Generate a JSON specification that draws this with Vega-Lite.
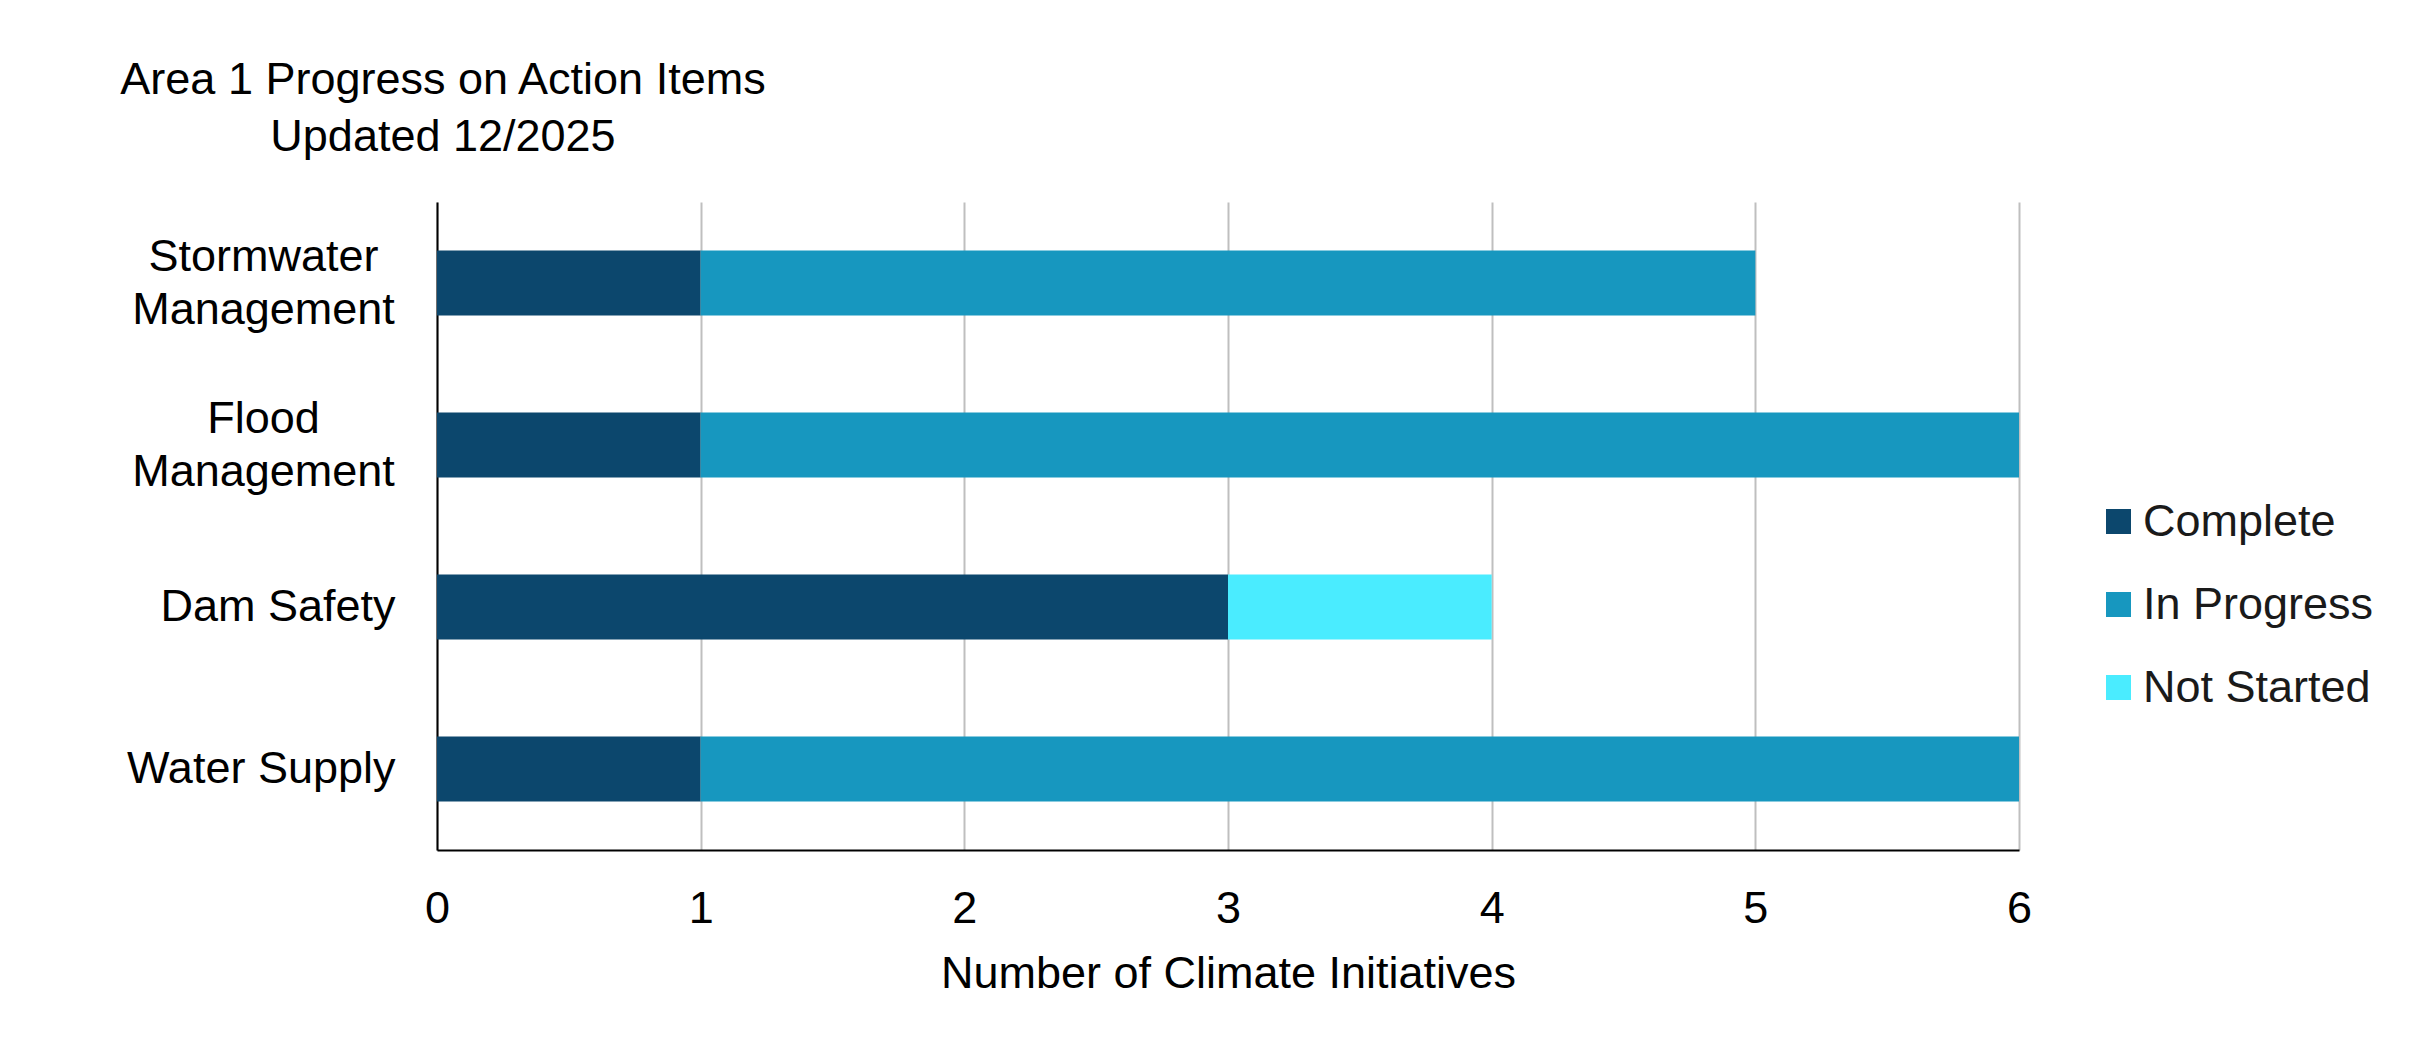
{
  "$schema": "https://vega.github.io/schema/vega-lite/v6.json",
  "autosize": {"type": "none"},
  "width": 1582,
  "height": 648,
  "padding": {"left": 437, "top": 202, "right": 401, "bottom": 206},
  "background": "white",
  "title": {
    "text": ["Area 1 Progress on Action Items", "Updated 12/2025"],
    "anchor": "start",
    "frame": "group",
    "align": "center",
    "dx": 6,
    "offset": 42,
    "font": "Liberation Sans",
    "fontSize": 45,
    "fontWeight": "normal",
    "lineHeight": 57,
    "color": "#000000"
  },
  "data": {
    "values": [
      {"category": "Stormwater Management", "status": "Complete", "count": 1, "rank": 1},
      {"category": "Stormwater Management", "status": "In Progress", "count": 4, "rank": 2},
      {"category": "Flood Management", "status": "Complete", "count": 1, "rank": 1},
      {"category": "Flood Management", "status": "In Progress", "count": 5, "rank": 2},
      {"category": "Dam Safety", "status": "Complete", "count": 3, "rank": 1},
      {"category": "Dam Safety", "status": "Not Started", "count": 1, "rank": 3},
      {"category": "Water Supply", "status": "Complete", "count": 1, "rank": 1},
      {"category": "Water Supply", "status": "In Progress", "count": 5, "rank": 2}
    ]
  },
  "mark": {"type": "bar"},
  "encoding": {
    "y": {
      "field": "category",
      "type": "nominal",
      "sort": ["Stormwater Management", "Flood Management", "Dam Safety", "Water Supply"],
      "scale": {"paddingInner": 0.6, "paddingOuter": 0.3},
      "axis": {
        "title": null,
        "labelExpr": "datum.value == 'Stormwater Management' ? ['Stormwater', 'Management'] : datum.value == 'Flood Management' ? ['Flood', 'Management'] : datum.value",
        "labelFont": "Liberation Sans",
        "labelFontSize": 45,
        "labelLineHeight": 53,
        "labelColor": "#000000",
        "labelLimit": 0,
        "labelAlign": {"condition": {"test": "indexof(datum.value, 'Management') >= 0", "value": "center"}, "value": "right"},
        "labelPadding": {"condition": {"test": "indexof(datum.value, 'Management') >= 0", "value": 174}, "value": 42},
        "labelOffset": {"condition": {"test": "indexof(datum.value, 'Management') >= 0", "value": -26}, "value": 0},
        "labelBaseline": "middle",
        "ticks": false,
        "tickSize": 0,
        "domain": true,
        "domainColor": "#000000",
        "domainWidth": 2,
        "grid": false
      }
    },
    "x": {
      "field": "count",
      "type": "quantitative",
      "stack": "zero",
      "scale": {"domain": [0, 6], "nice": false},
      "axis": {
        "title": "Number of Climate Initiatives",
        "titleFont": "Liberation Sans",
        "titleFontSize": 45,
        "titleFontWeight": "normal",
        "titleColor": "#000000",
        "titlePadding": 20,
        "values": [0, 1, 2, 3, 4, 5, 6],
        "labelFont": "Liberation Sans",
        "labelFontSize": 45,
        "labelColor": "#000000",
        "labelPadding": 36,
        "ticks": false,
        "tickSize": 0,
        "domain": true,
        "domainColor": "#000000",
        "domainWidth": 2,
        "grid": true,
        "gridColor": "#BFBFBF",
        "gridWidth": 2,
        "labelFlush": false
      }
    },
    "color": {
      "field": "status",
      "type": "nominal",
      "scale": {
        "domain": ["Complete", "In Progress", "Not Started"],
        "range": ["#0C476D", "#1797BF", "#4AECFF"]
      },
      "legend": {
        "title": null,
        "orient": "none",
        "legendX": 1659,
        "legendY": 297,
        "padding": 0,
        "symbolType": "square",
        "symbolSize": 625,
        "symbolStrokeWidth": 0,
        "symbolOpacity": 1,
        "labelFont": "Liberation Sans",
        "labelFontSize": 45,
        "labelColor": "#1a1a1a",
        "labelLimit": 0,
        "labelOffset": 2,
        "rowPadding": 37
      }
    },
    "order": {"field": "rank", "type": "quantitative"}
  },
  "config": {
    "view": {"stroke": null},
    "axis": {"gridOpacity": 1}
  }
}
